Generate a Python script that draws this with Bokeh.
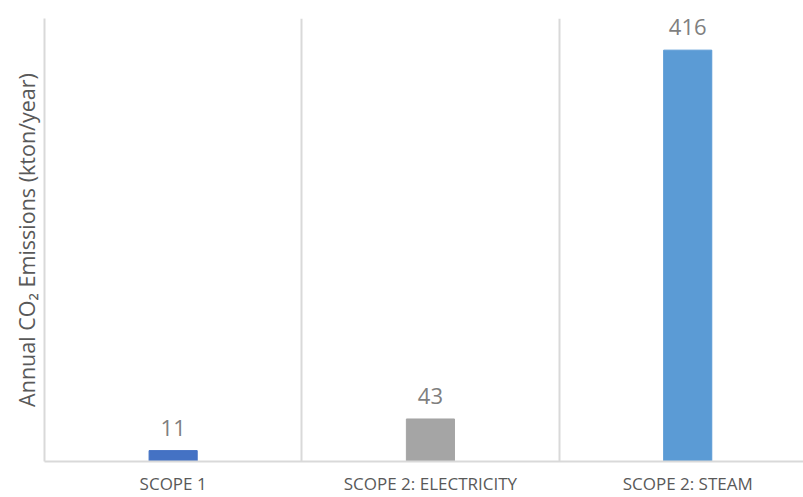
from bokeh.plotting import figure
from bokeh.models import ColumnDataSource, FixedTicker, LabelSet, Title
from bokeh.core.properties import value
from bokeh.embed import file_html
from bokeh.resources import INLINE

categories = ["SCOPE 1", "SCOPE 2: ELECTRICITY", "SCOPE 2: STEAM"]
values = [11, 43, 416]
colors = ["#4472C4", "#A5A5A5", "#5B9BD5"]
y_label = "Annual CO\u2082 Emissions (kton/year)"

xs = [i + 0.5 for i in range(len(categories))]
src = ColumnDataSource(dict(x=xs, top=values, color=colors,
                            label=[str(v) for v in values]))

p = figure(width=803, height=497, output_backend="svg", toolbar_location=None,
           x_range=(0, 2.95), y_range=(0, 448),
           min_border_left=44, min_border_right=0, min_border_top=18,
           min_border_bottom=35)
p.outline_line_color = None
p.background_fill_color = "white"
p.border_fill_color = "white"

p.vbar(x="x", top="top", width=0.187, bottom=0, color="color", source=src)

labels = LabelSet(x="x", y="top", text="label", source=src, y_offset=15,
                  text_align="center", text_baseline="alphabetic",
                  text_font=value("Open Sans"), text_font_size="22px",
                  text_color="#7F7F7F")
p.add_layout(labels)

# x axis
p.xaxis.ticker = FixedTicker(ticks=xs)
p.xaxis.major_label_overrides = {x: c for x, c in zip(xs, categories)}
p.xaxis.major_label_text_font = "Open Sans"
p.xaxis.major_label_text_font_size = "17px"
p.xaxis.major_label_text_color = "#595959"
p.xaxis.major_label_standoff = 10
p.xaxis.major_tick_line_color = None
p.xaxis.minor_tick_line_color = None
p.xaxis.major_tick_out = 0
p.xaxis.major_tick_in = 0
p.xaxis.minor_tick_out = 0
p.xaxis.axis_line_color = "#D9D9D9"
p.xaxis.axis_line_width = 2

# y axis (line only; its title is a left-side Title)
p.yaxis.ticker = FixedTicker(ticks=[])
p.yaxis.major_label_text_font_size = "0px"
p.yaxis.major_tick_line_color = None
p.yaxis.minor_tick_line_color = None
p.yaxis.major_tick_out = 0
p.yaxis.axis_line_color = "#D9D9D9"
p.yaxis.axis_line_width = 2

ytitle = Title(text=y_label, align="center", offset=-13, standoff=8,
               text_font="Open Sans", text_font_size="21.5px",
               text_font_style="normal", text_color="#595959")
p.add_layout(ytitle, "left")

# grids
p.xgrid.ticker = FixedTicker(ticks=[1, 2])
p.xgrid.grid_line_color = "#D9D9D9"
p.xgrid.grid_line_width = 2
p.ygrid.grid_line_color = None

open("out.html", "w").write(file_html(p, INLINE))
